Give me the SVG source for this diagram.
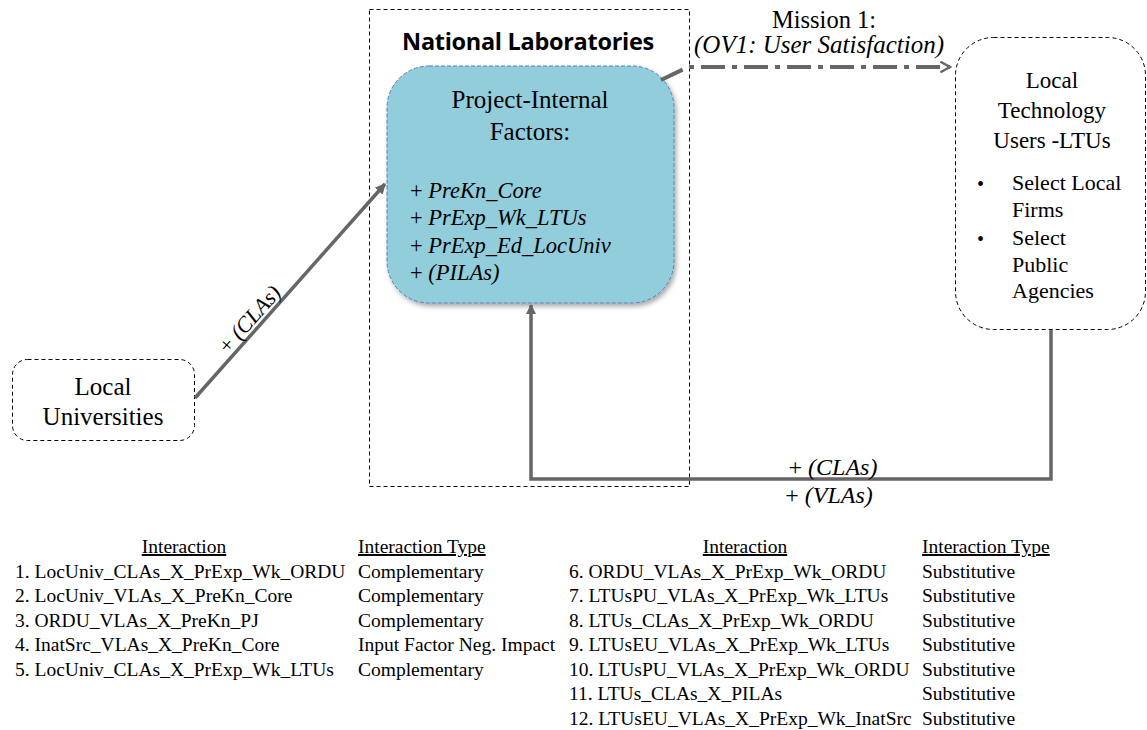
<svg xmlns="http://www.w3.org/2000/svg" width="1147" height="730" viewBox="0 0 1147 730">
<defs>
<marker id="ah" viewBox="0 0 10 10" refX="9" refY="5" markerWidth="3" markerHeight="3" orient="auto" markerUnits="strokeWidth">
<path d="M0,0 L10,5 L0,10 Z" fill="#666"/>
</marker>
<marker id="oh" viewBox="0 0 12 12" refX="10" refY="6" markerWidth="3.2" markerHeight="3.2" orient="auto" markerUnits="strokeWidth">
<path d="M1,1 L10,6 L1,11" fill="none" stroke="#666" stroke-width="2.2"/>
</marker>
<filter id="sh" x="-10%" y="-10%" width="125%" height="125%">
<feDropShadow dx="2" dy="3" stdDeviation="2.5" flood-color="#000" flood-opacity="0.35"/>
</filter>
</defs>

<g id="national-labs">
<rect x="369.5" y="9.5" width="320" height="477" fill="none" stroke="#000" stroke-width="1" stroke-dasharray="4,3"/>
<text x="528" y="50" text-anchor="middle" font-family="Open Sans" font-weight="bold" font-size="23.5" letter-spacing="-0.3">National Laboratories</text>
</g>

<g id="project-internal">
<rect x="387" y="66" width="287" height="237" rx="42" ry="42" fill="#92CDDC" stroke="#4F81BD" stroke-width="1" stroke-dasharray="4,2" filter="url(#sh)"/>
<text x="530" y="108" text-anchor="middle" font-family="Liberation Serif" font-size="25">Project-Internal</text>
<text x="530" y="140" text-anchor="middle" font-family="Liberation Serif" font-size="25">Factors:</text>
<text x="410" y="198" font-family="Liberation Serif" font-size="22.5">+<tspan font-style="italic"> PreKn_Core</tspan></text>
<text x="410" y="225" font-family="Liberation Serif" font-size="22.5">+<tspan font-style="italic"> PrExp_Wk_LTUs</tspan></text>
<text x="410" y="253" font-family="Liberation Serif" font-size="22.5">+<tspan font-style="italic"> PrExp_Ed_LocUniv</tspan></text>
<text x="410" y="280" font-family="Liberation Serif" font-size="22.5">+<tspan font-style="italic"> (PILAs)</tspan></text>
</g>

<g id="ltus">
<rect x="955.5" y="37.5" width="190" height="292" rx="38" ry="38" fill="#fff" stroke="#000" stroke-width="1" stroke-dasharray="4,3"/>
<text x="1052" y="88" text-anchor="middle" font-family="Liberation Serif" font-size="23">Local</text>
<text x="1052" y="118" text-anchor="middle" font-family="Liberation Serif" font-size="23">Technology</text>
<text x="1052" y="148" text-anchor="middle" font-family="Liberation Serif" font-size="23">Users -LTUs</text>
<text x="977" y="191" font-family="Liberation Serif" font-size="20">•</text>
<text x="1012" y="190" font-family="Liberation Serif" font-size="22">Select Local</text>
<text x="1012" y="217" font-family="Liberation Serif" font-size="22">Firms</text>
<text x="977" y="246" font-family="Liberation Serif" font-size="20">•</text>
<text x="1012" y="245" font-family="Liberation Serif" font-size="22">Select</text>
<text x="1012" y="272" font-family="Liberation Serif" font-size="22">Public</text>
<text x="1012" y="298" font-family="Liberation Serif" font-size="22">Agencies</text>
</g>

<g id="local-universities">
<rect x="12.5" y="359.5" width="182" height="81" rx="15" ry="15" fill="#fff" stroke="#000" stroke-width="1" stroke-dasharray="4,3"/>
<text x="103" y="395" text-anchor="middle" font-family="Liberation Serif" font-size="25">Local</text>
<text x="103" y="425" text-anchor="middle" font-family="Liberation Serif" font-size="25">Universities</text>
</g>

<g id="connectors">
<path d="M661,80 L688,67 L950,67" fill="none" stroke="#666" stroke-width="4" stroke-dasharray="24,7,5,7" marker-end="url(#oh)"/>
<line x1="195" y1="398" x2="385" y2="184" fill="none" stroke="#666" stroke-width="3.5" marker-end="url(#ah)"/>
<path d="M1051,330 L1051,479 L531,479 L531,305" fill="none" stroke="#666" stroke-width="3.5" marker-end="url(#ah)"/>
<text x="824" y="28" text-anchor="middle" font-family="Liberation Serif" font-size="24.5">Mission 1:</text>
<text x="819" y="53" text-anchor="middle" font-family="Liberation Serif" font-style="italic" font-size="25">(OV1: User Satisfaction)</text>
<text transform="translate(255,324) rotate(-48.5)" text-anchor="middle" font-family="Liberation Serif" font-size="22">+ <tspan font-style="italic">(CLAs)</tspan></text>
<text x="833" y="475" text-anchor="middle" font-family="Liberation Serif" font-size="24">+ <tspan font-style="italic">(CLAs)</tspan></text>
<text x="829" y="503" text-anchor="middle" font-family="Liberation Serif" font-size="24">+ <tspan font-style="italic">(VLAs)</tspan></text>
</g>

<g id="table-left">
<text x="184" y="553" text-anchor="middle" text-decoration="underline" font-family="Liberation Serif" font-size="19.5">Interaction</text>
<text x="358" y="553" text-decoration="underline" font-family="Liberation Serif" font-size="19.5">Interaction Type</text>
<text x="15" y="578" font-family="Liberation Serif" font-size="19.5">1. LocUniv_CLAs_X_PrExp_Wk_ORDU</text>
<text x="15" y="602" font-family="Liberation Serif" font-size="19.5">2. LocUniv_VLAs_X_PreKn_Core</text>
<text x="15" y="627" font-family="Liberation Serif" font-size="19.5">3. ORDU_VLAs_X_PreKn_PJ</text>
<text x="15" y="651" font-family="Liberation Serif" font-size="19.5">4. InatSrc_VLAs_X_PreKn_Core</text>
<text x="15" y="676" font-family="Liberation Serif" font-size="19.5">5. LocUniv_CLAs_X_PrExp_Wk_LTUs</text>
<text x="358" y="578" font-family="Liberation Serif" font-size="19.5">Complementary</text>
<text x="358" y="602" font-family="Liberation Serif" font-size="19.5">Complementary</text>
<text x="358" y="627" font-family="Liberation Serif" font-size="19.5">Complementary</text>
<text x="358" y="651" font-family="Liberation Serif" font-size="19.5">Input Factor Neg. Impact</text>
<text x="358" y="676" font-family="Liberation Serif" font-size="19.5">Complementary</text>
</g>

<g id="table-right">
<text x="745" y="553" text-anchor="middle" text-decoration="underline" font-family="Liberation Serif" font-size="19.5">Interaction</text>
<text x="922" y="553" text-decoration="underline" font-family="Liberation Serif" font-size="19.5">Interaction Type</text>
<text x="569" y="578" font-family="Liberation Serif" font-size="19.5">6. ORDU_VLAs_X_PrExp_Wk_ORDU</text>
<text x="569" y="602" font-family="Liberation Serif" font-size="19.5">7. LTUsPU_VLAs_X_PrExp_Wk_LTUs</text>
<text x="569" y="627" font-family="Liberation Serif" font-size="19.5">8. LTUs_CLAs_X_PrExp_Wk_ORDU</text>
<text x="569" y="651" font-family="Liberation Serif" font-size="19.5">9. LTUsEU_VLAs_X_PrExp_Wk_LTUs</text>
<text x="569" y="676" font-family="Liberation Serif" font-size="19.5">10. LTUsPU_VLAs_X_PrExp_Wk_ORDU</text>
<text x="569" y="700" font-family="Liberation Serif" font-size="19.5">11. LTUs_CLAs_X_PILAs</text>
<text x="569" y="725" font-family="Liberation Serif" font-size="19.5">12. LTUsEU_VLAs_X_PrExp_Wk_InatSrc</text>
<text x="922" y="578" font-family="Liberation Serif" font-size="19.5">Substitutive</text>
<text x="922" y="602" font-family="Liberation Serif" font-size="19.5">Substitutive</text>
<text x="922" y="627" font-family="Liberation Serif" font-size="19.5">Substitutive</text>
<text x="922" y="651" font-family="Liberation Serif" font-size="19.5">Substitutive</text>
<text x="922" y="676" font-family="Liberation Serif" font-size="19.5">Substitutive</text>
<text x="922" y="700" font-family="Liberation Serif" font-size="19.5">Substitutive</text>
<text x="922" y="725" font-family="Liberation Serif" font-size="19.5">Substitutive</text>
</g>
</svg>
